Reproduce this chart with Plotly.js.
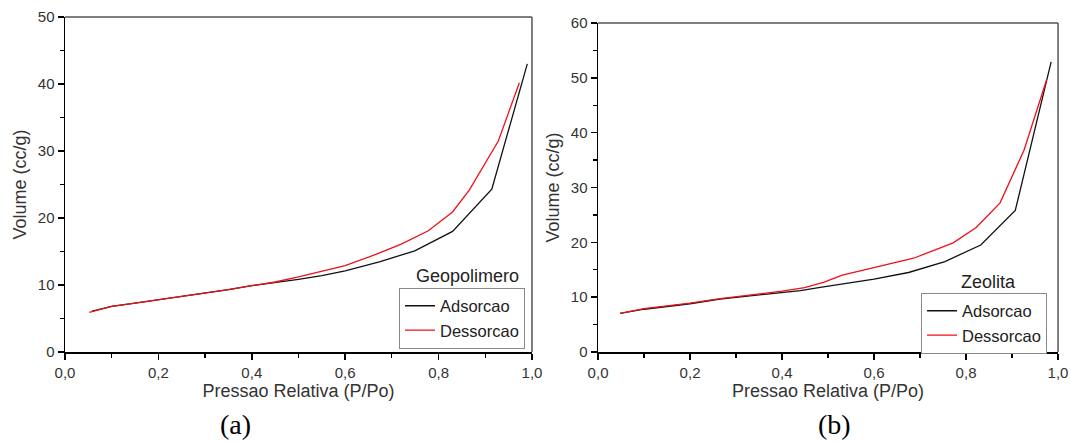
<!DOCTYPE html>
<html>
<head>
<meta charset="utf-8">
<script src="https://cdn.plot.ly/plotly-3.0.1.min.js"></script>
<style>html,body{margin:0;padding:0;background:#fff;}#chart{width:1071px;height:442px;}</style>
</head>
<body>
<div id="chart"></div>
<script>
// Geopolimero (a)
const geoAdsX = [0.058, 0.10, 0.15, 0.20, 0.25, 0.30, 0.35, 0.40, 0.45, 0.50, 0.55, 0.60, 0.675, 0.749, 0.83, 0.914, 0.99];
const geoAdsY = [6.1, 6.8, 7.3, 7.8, 8.2, 8.7, 9.3, 9.9, 10.35, 10.85, 11.4, 12.1, 13.5, 15.1, 18.0, 24.3, 43.0];
const geoDesX = [0.052, 0.10, 0.15, 0.20, 0.25, 0.30, 0.35, 0.40, 0.45, 0.50, 0.55, 0.60, 0.667, 0.72, 0.778, 0.83, 0.866, 0.928, 0.973];
const geoDesY = [5.9, 6.8, 7.3, 7.8, 8.2, 8.7, 9.3, 9.9, 10.45, 11.2, 12.0, 12.9, 14.6, 16.1, 18.1, 20.9, 24.2, 31.5, 40.2];
// Zeolita (b)
const zeoAdsX = [0.048, 0.10, 0.15, 0.20, 0.265, 0.33, 0.40, 0.44, 0.483, 0.526, 0.60, 0.675, 0.754, 0.832, 0.907, 0.985];
const zeoAdsY = [7.05, 7.8, 8.3, 8.8, 9.65, 10.2, 10.8, 11.2, 11.8, 12.3, 13.3, 14.5, 16.5, 19.5, 25.8, 52.9];
const zeoDesX = [0.048, 0.10, 0.15, 0.20, 0.265, 0.33, 0.40, 0.449, 0.49, 0.531, 0.628, 0.686, 0.772, 0.822, 0.874, 0.926, 0.975];
const zeoDesY = [7.05, 7.9, 8.4, 8.9, 9.75, 10.4, 11.1, 11.75, 12.7, 14.0, 15.9, 17.1, 19.9, 22.7, 27.2, 36.8, 49.6];

const seriesNames = ['Adsorcao', 'Dessorcao'];
const panelTitles = ['Geopolimero', 'Zeolita'];
const panelLabels = ['(a)', '(b)'];
const xTitle = 'Pressao Relativa (P/Po)';
const yTitle = 'Volume (cc/g)';

const FONT = 'Liberation Sans, Arial, sans-serif';
const SERIF = 'Liberation Serif, Times New Roman, serif';
const BLACK = '#111';
const RED = '#ee1018';

function tr(x, y, name, color, xa, ya, leg) {
  return {x: x, y: y, name: name, type: 'scatter', mode: 'lines',
    line: {color: color, width: 1.3}, xaxis: xa, yaxis: ya, legend: leg, hoverinfo: 'x+y'};
}

const data = [
  tr(geoAdsX, geoAdsY, seriesNames[0], BLACK, 'x', 'y', 'legend'),
  tr(geoDesX, geoDesY, seriesNames[1], RED, 'x', 'y', 'legend'),
  tr(zeoAdsX, zeoAdsY, seriesNames[0], BLACK, 'x2', 'y2', 'legend2'),
  tr(zeoDesX, zeoDesY, seriesNames[1], RED, 'x2', 'y2', 'legend2')
];

function xax(domain, anchor) {
  return {domain: domain, anchor: anchor, range: [0, 1], tick0: 0, dtick: 0.2, tickformat: '.1f',
    ticks: 'outside', ticklen: 6, tickwidth: 1.5, tickcolor: '#000',
    showline: true, linecolor: '#000', linewidth: 1.5, showgrid: false, zeroline: false,
    minor: {dtick: 0.1, ticks: 'outside', ticklen: 4, tickwidth: 1.2, tickcolor: '#000', showgrid: false},
    tickfont: {family: FONT, size: 15, color: '#333'},
    title: {text: xTitle, font: {family: FONT, size: 18, color: '#333'}, standoff: 5}};
}
function yax(domain, anchor, max) {
  return {domain: domain, anchor: anchor, range: [0, max], tick0: 0, dtick: 10,
    ticks: 'outside', ticklen: 6, tickwidth: 1.5, tickcolor: '#000',
    showline: true, linecolor: '#000', linewidth: 1.5, showgrid: false, zeroline: false,
    minor: {dtick: 5, ticks: 'outside', ticklen: 4, tickwidth: 1.2, tickcolor: '#000', showgrid: false},
    tickfont: {family: FONT, size: 15, color: '#333'},
    title: {text: yTitle, font: {family: FONT, size: 18, color: '#333'}, standoff: 6}};
}
function frame(xr, yr) {
  return [
    {type: 'line', xref: xr + ' domain', yref: yr + ' domain', x0: 0, x1: 1, y0: 1, y1: 1, line: {color: '#555', width: 1.5}},
    {type: 'line', xref: xr + ' domain', yref: yr + ' domain', x0: 1, x1: 1, y0: 0, y1: 1, line: {color: '#555', width: 1.5}}
  ];
}
function legend(x, y) {
  return {x: x, y: y, xanchor: 'right', yanchor: 'middle', bgcolor: '#fff', bordercolor: '#888', borderwidth: 1,
    font: {family: FONT, size: 16.5, color: '#222'}, tracegroupgap: 0, itemwidth: 30};
}
function label(text, x, y, font) {
  return {text: text, xref: 'paper', yref: 'paper', x: x / 1071, y: 1 - y / 442,
    xanchor: 'center', yanchor: 'middle', showarrow: false, font: font};
}

const layout = {
  width: 1071, height: 442, margin: {l: 0, r: 0, t: 0, b: 0},
  paper_bgcolor: '#fff', plot_bgcolor: '#fff', separators: ',.',
  font: {family: FONT},
  showlegend: true,
  xaxis: xax([0.0607, 0.4967], 'y'),
  yaxis: yax([0.2036, 0.9615], 'x', 50),
  xaxis2: xax([0.5584, 0.9879], 'y2'),
  yaxis2: yax([0.2036, 0.948], 'x2', 60),
  legend: legend(525 / 1071, 1 - 318 / 442),
  legend2: legend(1047 / 1071, 1 - 323 / 442),
  shapes: frame('x', 'y').concat(frame('x2', 'y2')),
  annotations: [
    label(panelTitles[0], 467, 276, {family: FONT, size: 18, color: '#222'}),
    label(panelTitles[1], 988, 282, {family: FONT, size: 18, color: '#222'}),
    label(panelLabels[0], 235, 424, {family: SERIF, size: 28, color: '#000'}),
    label(panelLabels[1], 834, 424, {family: SERIF, size: 28, color: '#000'})
  ]
};

Plotly.newPlot('chart', data, layout, {staticPlot: true, displayModeBar: false});
</script>
</body>
</html>
